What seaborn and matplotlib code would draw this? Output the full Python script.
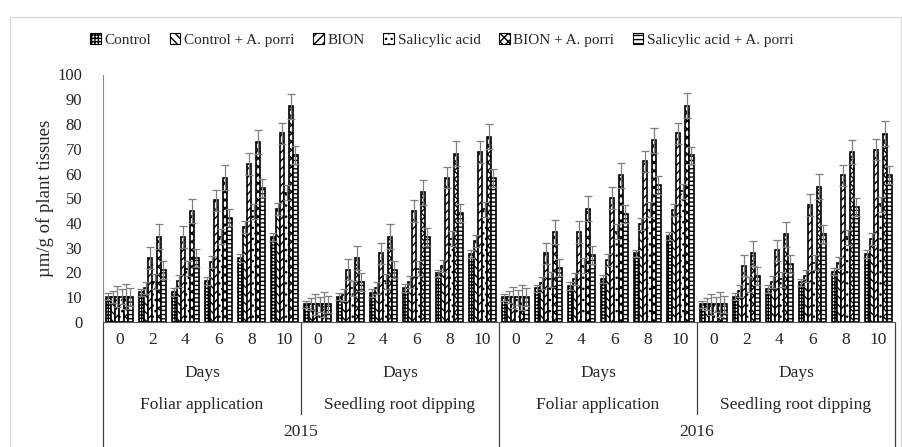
import numpy as np
import pandas as pd
import seaborn as sns
import matplotlib.pyplot as plt
from matplotlib.transforms import blended_transform_factory
from matplotlib.lines import Line2D
from matplotlib.patches import Rectangle

# categories
treatments = ['Control', 'Control + A. porri', 'BION', 'Salicylic acid',
              'BION + A. porri', 'Salicylic acid + A. porri']
days = [0, 2, 4, 6, 8, 10]
methods = ['Foliar application', 'Seedling root dipping']
years = ['2015', '2016']

# values: 2015 foliar, 2015 seedling, 2016 foliar, 2016 seedling (days 0..10 each)
control = [10.2, 12.0, 12.2, 16.5, 25.9, 34.4, 7.1, 10.2, 11.8, 13.7, 19.6, 27.4,
           10.0, 13.6, 14.5, 17.3, 27.7, 34.7, 7.1, 10.2, 13.3, 16.0, 20.4, 27.4]
control_ap = [10.2, 13.6, 16.5, 24.2, 38.4, 45.5, 7.1, 10.9, 13.6, 16.3, 22.7, 32.7,
              10.0, 15.6, 17.3, 25.0, 39.5, 45.4, 7.1, 12.6, 16.0, 18.5, 24.0, 33.5]
bion = [10.2, 25.9, 34.4, 49.2, 63.8, 76.3, 7.1, 21.2, 27.7, 44.8, 58.3, 68.7,
        10.0, 27.7, 36.4, 50.1, 64.9, 76.3, 7.1, 22.8, 28.9, 47.3, 59.3, 69.6]
sal_acid = [10.2, 16.3, 21.6, 34.4, 44.8, 52.2, 7.1, 13.6, 16.5, 21.6, 33.7, 45.6,
            10.0, 17.2, 22.7, 36.4, 45.4, 52.8, 7.1, 15.3, 17.3, 23.9, 34.2, 47.5]
bion_ap = [10.2, 34.4, 44.8, 58.3, 72.7, 87.1, 7.1, 25.9, 34.4, 52.4, 68.0, 74.9,
           10.0, 36.4, 45.8, 59.3, 73.4, 87.4, 7.1, 27.7, 35.5, 54.6, 68.7, 76.1]
sal_acid_ap = [10.2, 21.0, 25.9, 42.2, 54.3, 67.6, 7.1, 16.3, 21.2, 34.4, 44.2, 58.3,
               10.0, 22.0, 27.0, 43.8, 55.2, 67.3, 7.1, 18.5, 23.4, 35.5, 46.5, 59.3]
# error bar size per treatment
errors = [1.5, 2.4, 4.3, 3.0, 5.0, 3.6]

series = [control, control_ap, bion, sal_acid, bion_ap, sal_acid_ap]

# long table for seaborn
cats = []
rows = []
for yi, yr in enumerate(years):
    for mi, m in enumerate(methods):
        for di, d in enumerate(days):
            cat = f'{yr}|{m}|{d}'
            cats.append(cat)
            idx = (yi * 2 + mi) * 6 + di
            for t, vals in zip(treatments, series):
                rows.append({'cat': cat, 'treatment': t, 'value': vals[idx]})
df = pd.DataFrame(rows)

sns.set_style('white')
plt.rcParams['font.family'] = ['Liberation Serif', 'DejaVu Serif']
plt.rcParams['hatch.linewidth'] = 1.0

fig = plt.figure(figsize=(9.03, 4.47), dpi=100)
ax = fig.add_axes([103 / 903, 1 - 322 / 447, (895 - 103) / 903, (322 - 74.5) / 447])

sns.barplot(data=df, x='cat', y='value', hue='treatment', order=cats,
            hue_order=treatments, palette=['white'] * 6, edgecolor='black',
            linewidth=1.2, errorbar=None, width=0.8, ax=ax)

hatches = ['+++++', '\\\\\\\\', '////', '...', 'xxxx', '----']
bar_conts = list(ax.containers)
for i, cont in enumerate(bar_conts):
    xs, hs = [], []
    for b in cont:
        b.set_hatch(hatches[i])
        xs.append(b.get_x() + b.get_width() / 2)
        hs.append(b.get_height())
    ax.errorbar(xs, hs, yerr=errors[i], fmt='none', ecolor='#7f7f7f',
                elinewidth=0.9, capsize=3, capthick=0.9, zorder=5)

ax.legend_.remove()
leg = fig.legend(bar_conts, treatments, loc='center', bbox_to_anchor=(442 / 903, 1 - 40 / 447),
                 ncol=6, frameon=False, fontsize=11, handlelength=0.7, handleheight=0.7,
                 handletextpad=0.25, columnspacing=1.2)
for h in leg.legend_handles:
    h.set_linewidth(0.8)

ax.set_ylim(0, 100)
ax.set_xlim(-0.5, 23.5)
ax.set_yticks(range(0, 101, 10))
ax.tick_params(axis='y', length=0, pad=15, labelsize=12)
ax.set_xticks(range(24))
ax.set_xticklabels([str(d) for d in days] * 4)
ax.tick_params(axis='x', length=0, pad=7, labelsize=12.5)
ax.set_xlabel('')
ax.set_ylabel('µm/g of plant tissues', fontsize=13.5)
ax.yaxis.set_label_coords(-49 / 792, 0.5)

sns.despine(ax=ax)
ax.spines['left'].set_color('#8c8c8c')
ax.spines['bottom'].set_color('#595959')

# multi level category axis
trans = blended_transform_factory(ax.transData, fig.transFigure)
def fy(p):
    return 1 - p / 447

for p in range(4):
    xc = p * 6 + 2.5
    ax.text(xc, fy(373), 'Days', transform=trans, ha='center', va='center', fontsize=12.5)
    ax.text(xc, fy(405), methods[p % 2], transform=trans, ha='center', va='center', fontsize=12.5)
for yi, yr in enumerate(years):
    ax.text(yi * 12 + 5.5, fy(432), yr, transform=trans, ha='center', va='center', fontsize=12.5)

for x in [5.5, 17.5]:
    ax.add_line(Line2D([x, x], [fy(322), fy(414)], transform=trans, color='#404040',
                       lw=0.9, clip_on=False))
for x in [-0.5, 11.5, 23.5]:
    ax.add_line(Line2D([x, x], [fy(322), fy(450)], transform=trans, color='#404040',
                       lw=0.9, clip_on=False))

# light frame round the chart area
fig.patches.append(Rectangle((10 / 903, -0.05), (901 - 10) / 903, 0.05 + 1 - 17 / 447,
                             transform=fig.transFigure, fill=False,
                             edgecolor='#d9d9d9', lw=1))

fig.savefig('out.png', dpi=100)
